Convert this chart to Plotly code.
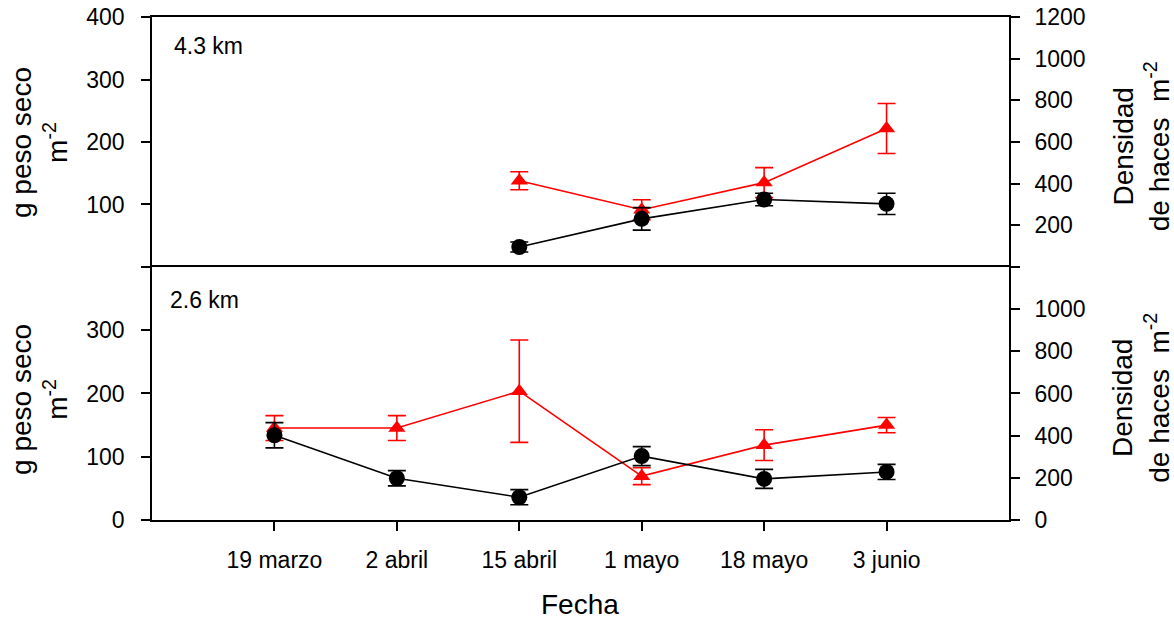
import plotly.graph_objects as go

# Sampling dates (shared x axis)
fechas = ["19 marzo", "2 abril", "15 abril", "1 mayo", "18 mayo", "3 junio"]

# 4.3 km station
biomasa_43 = [None, None, 32, 77, 108, 101]        # g peso seco m-2
biomasa_43_err = [0, 0, 8, 18, 10, 17]
densidad_43 = [None, None, 414, 275, 405, 665]     # haces m-2
densidad_43_err = [0, 0, 43, 48, 72, 120]

# 2.6 km station
biomasa_26 = [134, 66, 36, 101, 65, 76]
biomasa_26_err = [20, 12, 12, 15, 15, 12]
densidad_26 = [436, 436, 611, 208, 355, 450]
densidad_26_err = [59, 59, 243, 40, 73, 36]

FONT = "Arial, Liberation Sans, sans-serif"
RED = "#ff0000"
BLACK = "#000000"

fig = go.Figure()


def add_series(x_ax, y_ax, vals, errs, color, symbol, size):
    fig.add_trace(go.Scatter(
        x=fechas, y=vals, xaxis=x_ax, yaxis=y_ax,
        mode="lines+markers", connectgaps=False,
        line=dict(color=color, width=1.6),
        marker=dict(symbol=symbol, size=size, color=color),
        error_y=dict(type="data", array=errs, visible=True,
                     color=color, thickness=1.6, width=9),
        showlegend=False, hoverinfo="skip",
    ))


# density (red) on base axes, biomass (black) on overlaying axes -> drawn on top
add_series("x", "y", densidad_43, densidad_43_err, RED, "triangle-up", 15)
add_series("x", "y2", biomasa_43, biomasa_43_err, BLACK, "circle", 16)
add_series("x2", "y3", densidad_26, densidad_26_err, RED, "triangle-up", 15)
add_series("x2", "y4", biomasa_26, biomasa_26_err, BLACK, "circle", 16)

axis_common = dict(showgrid=False, zeroline=False, showline=True, automargin=False,
                   linecolor=BLACK, linewidth=1.6,
                   tickfont=dict(family=FONT, size=23, color=BLACK),
                   ticks="outside", ticklen=9, tickwidth=1.6, tickcolor=BLACK)

top_dom = [0.503, 1.0]
bot_dom = [0.0, 0.503]

dens_vals = [0, 200, 400, 600, 800, 1000, 1200]
bio_vals = [0, 100, 200, 300, 400]

fig.update_layout(
    template="none",
    width=1174, height=619,
    margin=dict(l=152, r=165, t=17, b=99, autoexpand=False),
    paper_bgcolor="white", plot_bgcolor="white",
    font=dict(family=FONT, color=BLACK),
    # top panel: only its upper frame line; the shared middle line comes from the lower panel
    xaxis=dict(domain=[0, 1], anchor="y", type="category", automargin=False,
               categoryorder="array", categoryarray=fechas, range=[-1, 6],
               side="top", showgrid=False, zeroline=False, showline=True, mirror=False,
               linecolor=BLACK, linewidth=1.6, ticks="", showticklabels=False),
    xaxis2=dict(domain=[0, 1], anchor="y3", type="category",
                categoryorder="array", categoryarray=fechas, range=[-1, 6],
                mirror=True, ticklabelstandoff=10, **axis_common),
    yaxis=dict(domain=top_dom, anchor="x", side="right", range=[0, 1200],
               tickvals=dens_vals,
               ticktext=[""] + [str(v) for v in dens_vals[1:]],
               ticklabelstandoff=10, **axis_common),
    yaxis2=dict(overlaying="y", anchor="x", side="left", range=[0, 400],
                tickvals=bio_vals,
                ticktext=[""] + [str(v) for v in bio_vals[1:]],
                ticklabelstandoff=12, **axis_common),
    yaxis3=dict(domain=bot_dom, anchor="x2", side="right", range=[0, 1200],
                tickvals=dens_vals,
                ticktext=[str(v) for v in dens_vals[:-1]] + [""],
                ticklabelstandoff=10, **axis_common),
    yaxis4=dict(overlaying="y3", anchor="x2", side="left", range=[0, 400],
                tickvals=bio_vals,
                ticktext=[str(v) for v in bio_vals[:-1]] + [""],
                ticklabelstandoff=12, **axis_common),
)

title_font = dict(family=FONT, size=28, color=BLACK)
label_font = dict(family=FONT, size=23, color=BLACK)

annotations = [
    dict(text="4.3 km", x=0.0233, y=0.942, xanchor="left", yanchor="middle",
         font=label_font),
    dict(text="2.6 km", x=0.0187, y=0.437, xanchor="left", yanchor="middle",
         font=label_font),
    dict(text="Fecha", x=0.4994, y=-0.167, xanchor="center", yanchor="middle",
         font=title_font),
]
for yc in (0.7515, 0.2406):
    annotations.append(dict(text="g peso seco<br>m<sup>-2</sup>", x=-0.1307, y=yc,
                            textangle=-90, xanchor="center", yanchor="middle",
                            font=title_font))
for yc in (0.743, 0.243):
    annotations.append(dict(text="Densidad<br>de haces\u00a0\u00a0m<sup>-2</sup>",
                            x=1.154, y=yc, textangle=-90,
                            xanchor="center", yanchor="middle", font=title_font))
for a in annotations:
    a.update(xref="paper", yref="paper", showarrow=False)
fig.update_layout(annotations=annotations)

fig.write_html("out.html")
